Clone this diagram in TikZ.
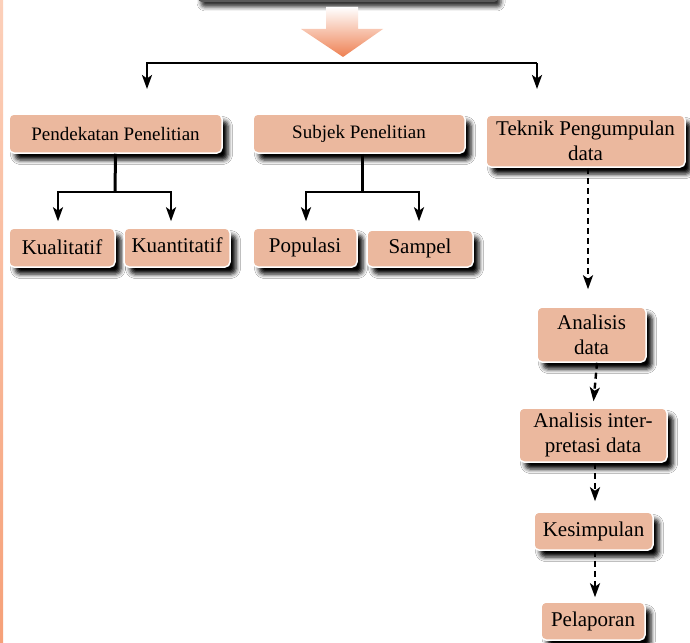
\documentclass[tikz,border=0pt]{standalone}
\usepackage{fontspec}
\setmainfont{Liberation Serif}
\usetikzlibrary{arrows.meta,shadows.blur}
\definecolor{boxfill}{RGB}{235,184,158}
\definecolor{arroworange}{RGB}{238,128,82}
\definecolor{barlight}{RGB}{252,208,186}
\definecolor{bardark}{RGB}{246,160,120}
\begin{document}
\begin{tikzpicture}[x=1pt,y=-1pt,
  box/.style={draw=white, line width=1.5pt, fill=boxfill, rounded corners=5pt,
    inner sep=2pt, align=center, font=\fontsize{21}{25}\selectfont,
    blur shadow={shadow xshift=6pt, shadow yshift=-7pt, shadow blur radius=4.5pt, shadow opacity=100}},
  smallbox/.style={box, font=\fontsize{19}{23}\selectfont},
  plainline/.style={line width=2.4pt},
  conn/.style={line width=2.4pt, -{Stealth[length=14pt,width=10pt,inset=3.5pt]}},
  dconn/.style={conn, dash pattern=on 6pt off 4pt}
]
\useasboundingbox (0,0) rectangle (690,642);
\fill[white] (0,0) rectangle (690,642);
% left bar
\shade[top color=barlight, bottom color=bardark] (0,0) rectangle (3,642);
% top dark box (bottom edge only visible)
\node[fill=black!65, rounded corners=4pt, minimum width=300pt, minimum height=30pt,
  blur shadow={shadow xshift=3pt, shadow yshift=-5pt, shadow blur radius=4pt, shadow opacity=80}]
  (topbox) at (348,-13) {};
% big arrow
\shade[top color=white, bottom color=arroworange]
  (326,7) -- (358,7) -- (358,29) -- (383,29) -- (343,57) -- (301,29) -- (326,29) -- cycle;

% nodes
\node[smallbox, minimum width=213pt, minimum height=39pt] (pend) at (115.5,133.5) {Pendekatan Penelitian};
\node[smallbox, minimum width=212pt, minimum height=39pt] (subj) at (359,133.5) {Subjek Penelitian};
\node[box, minimum width=199pt, minimum height=52pt] (tekn) at (585.5,141) {Teknik Pengumpulan\\data};
\node[box, minimum width=106pt, minimum height=39pt] (kual) at (62,247.5) {Kualitatif};
\node[box, minimum width=106pt, minimum height=39pt] (kuan) at (177,247.5) {\raisebox{4pt}{Kuantitatif}};
\node[box, minimum width=104pt, minimum height=39pt] (popu) at (305,247.5) {Populasi};
\node[box, minimum width=106pt, minimum height=37pt] (samp) at (420,248.5) {\raisebox{-2pt}{Sampel}};
\node[box, minimum width=109pt, minimum height=55pt] (anal) at (591.5,334.5) {Analisis\\data};
\node[box, minimum width=148pt, minimum height=54pt] (inte) at (593,435) {Analisis inter-\\pretasi data};
\node[box, minimum width=119pt, minimum height=38pt] (kesi) at (593.5,531) {Kesimpulan};
\node[box, minimum width=104pt, minimum height=38pt] (pela) at (593,621) {Pelaporan};

% top distribution
\coordinate (hl) at (147,63);
\coordinate (hr) at (537,63);
\coordinate (tl) at (147,89);
\coordinate (tr) at (537,89);
\draw[conn] (hr) -- (hl) -- (tl);
\draw[conn] (hr) -- (tr);

% Pendekatan tree
\coordinate (pj) at (115,192);
\draw[plainline, line width=3pt] (pend.south) -- (pj);
\draw[conn, shorten >=6pt] (pj) -| ([xshift=-4pt]kual.north);
\draw[conn, shorten >=6pt] (pj) -| ([xshift=-6pt]kuan.north);

% Subjek tree
\coordinate (sj) at (362,192);
\draw[plainline, line width=3pt] ([xshift=3pt]subj.south) -- (sj);
\draw[conn, shorten >=6pt] (sj) -| ([xshift=1pt]popu.north);
\draw[conn, shorten >=8pt] (sj) -| ([xshift=-1pt]samp.north);

% dashed chain
\draw[dconn, shorten >=17pt] ([xshift=2.5pt]tekn.south) -- ([xshift=-3.5pt]anal.north);
\draw[dconn, shorten >=6pt] ([xshift=5.5pt]anal.south) -- (inte.north);
\draw[dconn, shorten >=10pt] ([xshift=2pt]inte.south) -- ([xshift=1.5pt]kesi.north);
\draw[dconn, shorten >=4pt] ([xshift=1.5pt]kesi.south) -- ([xshift=2pt]pela.north);
\end{tikzpicture}
\end{document}
